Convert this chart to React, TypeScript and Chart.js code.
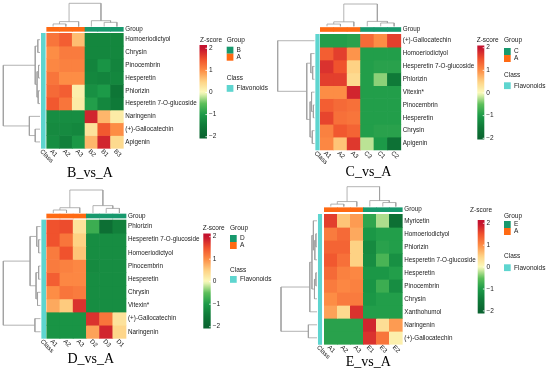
import React, { useEffect, useRef } from 'react';
import { Chart, registerables } from 'chart.js';
Chart.register(...registerables);

type Tree = number | [number, Tree, Tree];

// ---------------- DATA ----------------
// Panel 1: B_vs_A
const p1Title = 'B_vs_A';
const p1Cols = ['A1', 'A2', 'A3', 'B2', 'B1', 'B3'];
const p1Groups = ['A', 'A', 'A', 'B', 'B', 'B'];
const p1LegendGroups = ['B', 'A'];
const p1Rows = ['Homoeriodictyol', 'Chrysin', 'Pinocembrin', 'Hesperetin', 'Phlorizin', 'Hesperetin 7-O-glucoside', 'Naringenin', '(+)-Gallocatechin', 'Apigenin'];
const p1Values = [
  [1.2, 1.4, 0.65, -1.3, -1.3, -1.3],
  [1.0, 1.15, 1.15, -1.3, -1.3, -1.3],
  [1.05, 1.1, 1.1, -1.35, -1.1, -1.35],
  [1.2, 1.0, 1.0, -1.3, -1.35, -1.3],
  [1.3, 1.4, 0.15, -1.15, -1.0, -1.6],
  [1.45, 1.2, 0.2, -0.95, -1.3, -1.5],
  [-1.2, -1.2, -1.2, 1.85, 0.7, 0.2],
  [-1.25, -1.25, -1.3, 0.3, 1.45, 1.0],
  [-1.2, -1.4, -1.05, 0.7, 1.85, 0.4],
];
const p1ColTree: Tree = [1, [0.21, [0.11, 0, 1], 2], [0.25, 3, [0.18, 4, 5]]];
const p1RowTree: Tree = [1, [0.13, [0.06, 0, 1], [0.08, [0.04, 2, 3], [0.05, 4, 5]]], [0.29, 6, [0.13, 7, 8]]];

// Panel 2: C_vs_A
const p2Title = 'C_vs_A';
const p2Cols = ['A1', 'A2', 'A3', 'C3', 'C1', 'C2'];
const p2Groups = ['A', 'A', 'A', 'C', 'C', 'C'];
const p2LegendGroups = ['C', 'A'];
const p2Rows = ['(+)-Gallocatechin', 'Homoeriodictyol', 'Hesperetin 7-O-glucoside', 'Phlorizin', 'Vitexin*', 'Pinocembrin', 'Hesperetin', 'Chrysin', 'Apigenin'];
const p2Values = [
  [-0.95, -0.95, -0.9, 1.3, 1.0, 1.65],
  [1.4, 1.65, 0.95, -0.95, -0.95, -0.95],
  [1.75, 1.5, 0.5, -0.95, -0.9, -0.9],
  [1.65, 1.65, 0.4, -0.95, -0.35, -1.5],
  [1.0, 1.0, 1.85, -0.95, -0.95, -0.95],
  [1.4, 1.3, 1.25, -0.95, -0.95, -0.95],
  [1.6, 1.25, 1.2, -0.95, -0.95, -0.95],
  [1.1, 1.45, 1.35, -0.95, -0.9, -0.9],
  [1.05, 0.6, 1.7, -0.2, -1.0, -1.7],
];
const p2ColTree: Tree = [1, [0.2, [0.1, 0, 1], 2], [0.22, 3, [0.15, 4, 5]]];
const p2RowTree: Tree = [1, 0, [0.21, [0.1, 1, [0.05, 2, 3]], [0.12, [0.08, 4, [0.03, 5, 6]], [0.06, 7, 8]]]];

// Panel 3: D_vs_A
const p3Title = 'D_vs_A';
const p3Cols = ['A1', 'A2', 'A3', 'D2', 'D3', 'D1'];
const p3Groups = ['A', 'A', 'A', 'D', 'D', 'D'];
const p3LegendGroups = ['D', 'A'];
const p3Rows = ['Phlorizin', 'Hesperetin 7-O-glucoside', 'Homoeriodictyol', 'Pinocembrin', 'Hesperetin', 'Chrysin', 'Vitexin*', '(+)-Gallocatechin', 'Naringenin'];
const p3Values = [
  [1.5, 1.55, 0.3, -0.75, -1.75, -1.4],
  [1.5, 1.2, 0.5, -1.2, -1.2, -1.2],
  [1.15, 1.5, 0.6, -1.2, -1.2, -1.2],
  [1.15, 1.1, 1.05, -1.25, -1.2, -1.2],
  [1.4, 1.05, 1.05, -1.2, -1.2, -1.2],
  [1.0, 1.2, 1.15, -1.2, -1.2, -1.2],
  [0.8, 0.55, 1.75, -1.2, -1.2, -1.2],
  [-1.1, -1.1, -1.1, 1.75, 1.2, 0.3],
  [-1.1, -1.1, -1.1, 0.85, 1.85, 0.45],
];
const p3ColTree: Tree = [1, [0.23, [0.13, 0, 1], 2], [0.32, 3, [0.2, 4, 5]]];
const p3RowTree: Tree = [1, [0.28, [0.1, 0, [0.05, 1, 2]], [0.12, [0.05, 3, 4], [0.08, 5, 6]]], [0.15, 7, 8]];

// Panel 4: E_vs_A
const p4Title = 'E_vs_A';
const p4Cols = ['A1', 'A2', 'A3', 'E1', 'E3', 'E2'];
const p4Groups = ['A', 'A', 'A', 'E', 'E', 'E'];
const p4LegendGroups = ['E', 'A'];
const p4Rows = ['Myricetin', 'Homoeriodictyol', 'Phlorizin', 'Hesperetin 7-O-glucoside', 'Hesperetin', 'Pinocembrin', 'Chrysin', 'Xanthohumol', 'Naringenin', '(+)-Gallocatechin'];
const p4Values = [
  [1.65, 0.6, 0.9, -0.85, -0.25, -1.75],
  [1.15, 1.3, 0.8, -1.05, -0.95, -0.95],
  [1.35, 1.35, 0.5, -1.25, -0.9, -0.95],
  [1.45, 1.25, 0.5, -1.2, -0.65, -1.15],
  [1.3, 1.1, 1.05, -1.05, -1.05, -0.95],
  [1.15, 1.05, 1.1, -1.1, -0.75, -1.2],
  [1.0, 1.15, 1.15, -1.05, -0.95, -0.95],
  [0.85, 0.4, 1.75, -0.95, -0.95, -0.95],
  [-0.9, -0.9, -0.9, 1.85, 0.35, 0.9],
  [-0.9, -0.9, -0.9, 1.75, 1.2, 0.15],
];
const p4ColTree: Tree = [1, [0.25, [0.12, 0, 1], 2], [0.3, 3, [0.2, 4, 5]]];
const p4RowTree: Tree = [1, [0.2, [0.14, [0.1, 0, [0.06, [0.03, 1, 2], 3]], [0.07, [0.03, 4, 5], 6]], 7], [0.24, 8, 9]];

const TICK_VALUES = [2, 1, 0, -1, -2];
const TICK_LABELS = ['2', '1', '0', '\u22121', '\u22122'];
const CLASS_NAME = 'Flavonoids';

// ---------------- STYLE ----------------
const COLOR_STOPS: [number, string][] = [
  [-2, '#0a6430'],
  [-1.5, '#0f7a38'],
  [-1, '#1c9a48'],
  [-0.5, '#5cbf5a'],
  [0, '#fbfbbd'],
  [0.5, '#fed284'],
  [1, '#fd8d45'],
  [1.5, '#f0522d'],
  [2, '#c4122e'],
];
const GROUP_A = '#ff6a13';
const GROUP_OTHER = '#17996d';
const CLASS_COLOR = '#5ed5cf';
const DENDRO_COLOR = '#a0a0a0';
const SANS = '"Liberation Sans", Arial, sans-serif';
const SERIF = '"Liberation Serif", "Times New Roman", serif';

function hexRgb(h: string): number[] {
  return [1, 3, 5].map((i) => parseInt(h.slice(i, i + 2), 16));
}
function colorFor(v: number): string {
  const s = COLOR_STOPS;
  if (v <= s[0][0]) return s[0][1];
  if (v >= s[s.length - 1][0]) return s[s.length - 1][1];
  for (let i = 0; i < s.length - 1; i++) {
    const [a, ca] = s[i];
    const [b, cb] = s[i + 1];
    if (v >= a && v <= b) {
      const t = (v - a) / (b - a);
      const A = hexRgb(ca), B = hexRgb(cb);
      const c = A.map((x, k) => Math.round(x + (B[k] - x) * t));
      return `rgb(${c[0]},${c[1]},${c[2]})`;
    }
  }
  return s[0][1];
}

interface Geo {
  left: number; top: number; w: number; h: number;
  cellLeft: number; cellTop: number; cellW: number; cellH: number;
  gbTop: number; gbBot: number; cbLeft: number; cbRight: number;
  colLeaf: number; colRoot: number; rowLeaf: number; rowRoot: number;
  titleX: number; titleY: number;
  zX: number; zY: number; barX: number; barW: number; barTop: number; barBot: number;
  tick2: number; tickStep: number;
  grpX: number; grpY: number; box1Top: number; clsY: number; clsBoxTop: number; boxLabelX: number;
}

interface Spec {
  title: string; cols: string[]; groups: string[]; legendGroups: string[]; rows: string[];
  values: number[][]; colTree: Tree; rowTree: Tree; geo: Geo;
}

const PANELS: Spec[] = [
  {
    title: p1Title, cols: p1Cols, groups: p1Groups, legendGroups: p1LegendGroups, rows: p1Rows, values: p1Values,
    colTree: p1ColTree, rowTree: p1RowTree,
    geo: { left: 0, top: 0, w: 275, h: 185, cellLeft: 46.7, cellTop: 33.3, cellW: 12.77, cellH: 12.78,
      gbTop: 27.3, gbBot: 31.3, cbLeft: 41.3, cbRight: 45.3, colLeaf: 26.5, colRoot: 3.3, rowLeaf: 40, rowRoot: 3.3,
      titleX: 90, titleY: 176.5, zX: 200, zY: 40, barX: 199.5, barW: 7.5, barTop: 45, barBot: 138.5, tick2: 48.3, tickStep: 22.1,
      grpX: 226.7, grpY: 40, box1Top: 46.7, clsY: 78.5, clsBoxTop: 85, boxLabelX: 236.5 },
  },
  {
    title: p2Title, cols: p2Cols, groups: p2Groups, legendGroups: p2LegendGroups, rows: p2Rows, values: p2Values,
    colTree: p2ColTree, rowTree: p2RowTree,
    geo: { left: 275, top: 0, w: 275, h: 185, cellLeft: 45.3, cellTop: 34.3, cellW: 13.42, cellH: 12.85,
      gbTop: 27.5, gbBot: 31.5, cbLeft: 40.7, cbRight: 44.3, colLeaf: 26.3, colRoot: 4, rowLeaf: 39.5, rowRoot: 2.7,
      titleX: 93.5, titleY: 175.7, zX: 201.7, zY: 40, barX: 202.3, barW: 7, barTop: 45.5, barBot: 139.5, tick2: 47.7, tickStep: 22.65,
      grpX: 229, grpY: 40, box1Top: 48, clsY: 75.7, clsBoxTop: 82.3, boxLabelX: 239 },
  },
  {
    title: p3Title, cols: p3Cols, groups: p3Groups, legendGroups: p3LegendGroups, rows: p3Rows, values: p3Values,
    colTree: p3ColTree, rowTree: p3RowTree,
    geo: { left: 0, top: 185, w: 275, h: 186, cellLeft: 46.7, cellTop: 35, cellW: 13.22, cellH: 13.15,
      gbTop: 29, gbBot: 33, cbLeft: 41.7, cbRight: 45.7, colLeaf: 28, colRoot: 5, rowLeaf: 40.5, rowRoot: 3.3,
      titleX: 90.8, titleY: 178.3, zX: 202.7, zY: 43.3, barX: 203.3, barW: 7.4, barTop: 48.5, barBot: 143.5, tick2: 51.7, tickStep: 22.5,
      grpX: 230, grpY: 43.3, box1Top: 50, clsY: 85, clsBoxTop: 91, boxLabelX: 240 },
  },
  {
    title: p4Title, cols: p4Cols, groups: p4Groups, legendGroups: p4LegendGroups, rows: p4Rows, values: p4Values,
    colTree: p4ColTree, rowTree: p4RowTree,
    geo: { left: 275, top: 185, w: 275, h: 186, cellLeft: 49.3, cellTop: 29.3, cellW: 13.0, cellH: 13.0,
      gbTop: 22.7, gbBot: 26.7, cbLeft: 43.3, cbRight: 46.7, colLeaf: 21.5, colRoot: 1.7, rowLeaf: 42, rowRoot: 6,
      titleX: 93.3, titleY: 181, zX: 195, zY: 25.7, barX: 202.7, barW: 6.8, barTop: 35, barBot: 128.5, tick2: 38.3, tickStep: 21.9,
      grpX: 229, grpY: 31.7, box1Top: 36, clsY: 71.7, clsBoxTop: 79.3, boxLabelX: 239 },
  },
];

function layoutTree(t: Tree, segs: [number, number][][]): [number, number] {
  if (typeof t === 'number') return [t + 0.5, 0];
  const [h, l, r] = t;
  const [pl, hl] = layoutTree(l, segs);
  const [pr, hr] = layoutTree(r, segs);
  segs.push([[pl, hl], [pl, h], [pr, h], [pr, hr]]);
  return [(pl + pr) / 2, h];
}

function Panel({ spec }: { spec: Spec }) {
  const ref = useRef<HTMLCanvasElement>(null);
  useEffect(() => {
    const g = spec.geo;
    const nC = spec.cols.length;
    const nR = spec.rows.length;
    const toYu = (px: number) => (px - g.cellTop) / g.cellH;
    const toXu = (px: number) => (px - g.cellLeft) / g.cellW;
    const datasets: any[] = [];
    const barCommon = { type: 'bar', grouped: false, barPercentage: 1, categoryPercentage: 1, borderWidth: 0, clip: false };

    spec.values.forEach((row, i) => {
      datasets.push({
        ...barCommon, xAxisID: 'x', yAxisID: 'y',
        data: row.map((_, j) => ({ x: j + 0.5, y: [i, i + 1] })),
        backgroundColor: row.map(colorFor),
      });
    });
    // group annotation bar
    datasets.push({
      ...barCommon, xAxisID: 'x', yAxisID: 'y',
      data: spec.groups.map((_, j) => ({ x: j + 0.5, y: [toYu(g.gbTop), toYu(g.gbBot)] })),
      backgroundColor: spec.groups.map((gr) => (gr === 'A' ? GROUP_A : GROUP_OTHER)),
    });
    // class annotation bar
    datasets.push({
      ...barCommon, xAxisID: 'x2', yAxisID: 'y', maxBarThickness: g.cbRight - g.cbLeft,
      data: [{ x: toXu((g.cbLeft + g.cbRight) / 2), y: [0, nR] }],
      backgroundColor: CLASS_COLOR,
    });
    // dendrograms
    const lineCommon = { type: 'line', borderColor: DENDRO_COLOR, borderWidth: 0.8, pointRadius: 0, fill: false, tension: 0, clip: false };
    const colSegs: [number, number][][] = [];
    layoutTree(spec.colTree, colSegs);
    colSegs.forEach((s) => {
      datasets.push({
        ...lineCommon, xAxisID: 'x', yAxisID: 'y', indexAxis: 'x',
        data: s.map(([pos, h]) => ({ x: pos, y: toYu(g.colLeaf - h * (g.colLeaf - g.colRoot)) })),
      });
    });
    const rowSegs: [number, number][][] = [];
    layoutTree(spec.rowTree, rowSegs);
    rowSegs.forEach((s) => {
      datasets.push({
        ...lineCommon, xAxisID: 'x', yAxisID: 'y', indexAxis: 'y',
        data: s.map(([pos, h]) => ({ x: toXu(g.rowLeaf - h * (g.rowLeaf - g.rowRoot)), y: pos })),
      });
    });

    const overlay = {
      id: 'overlay',
      afterDraw(chart: any) {
        const ctx: CanvasRenderingContext2D = chart.ctx;
        const xs = chart.scales.x;
        const ys = chart.scales.y;
        ctx.save();
        ctx.fillStyle = '#1a1a1a';
        ctx.font = `6.3px ${SANS}`;
        ctx.textAlign = 'left';
        ctx.textBaseline = 'middle';
        const labX = xs.getPixelForValue(nC) + 2;
        spec.rows.forEach((r, i) => ctx.fillText(r, labX, ys.getPixelForValue(i + 0.5)));
        ctx.fillText('Group', labX, ys.getPixelForValue(toYu((g.gbTop + g.gbBot) / 2)));
        const bottom = ys.getPixelForValue(nR);
        const colLab = (text: string, cx: number) => {
          ctx.save();
          ctx.translate(cx - 2.2, bottom + 2.2);
          ctx.rotate(Math.PI / 4);
          ctx.fillText(text, 0, 0);
          ctx.restore();
        };
        spec.cols.forEach((c, j) => colLab(c, xs.getPixelForValue(j + 0.5)));
        colLab('Class', chart.scales.x2.getPixelForValue(toXu((g.cbLeft + g.cbRight) / 2)));

        // title
        ctx.fillStyle = '#000';
        ctx.font = `14px ${SERIF}`;
        ctx.textAlign = 'center';
        ctx.textBaseline = 'alphabetic';
        ctx.fillText(spec.title, g.titleX, g.titleY);

        // colour legend
        const valAt = (py: number) => 2 - (py - g.tick2) / g.tickStep;
        const grad = ctx.createLinearGradient(0, g.barTop, 0, g.barBot);
        for (let k = 0; k <= 40; k++) {
          const t = k / 40;
          grad.addColorStop(t, colorFor(valAt(g.barTop + t * (g.barBot - g.barTop))));
        }
        ctx.fillStyle = grad;
        ctx.fillRect(g.barX, g.barTop, g.barW, g.barBot - g.barTop);
        ctx.strokeStyle = '#ffffff';
        ctx.lineWidth = 0.8;
        ctx.fillStyle = '#1a1a1a';
        ctx.font = `6.5px ${SANS}`;
        ctx.textAlign = 'left';
        ctx.textBaseline = 'middle';
        TICK_VALUES.forEach((v, k) => {
          const py = g.tick2 + (2 - v) * g.tickStep;
          ctx.beginPath();
          ctx.moveTo(g.barX + g.barW - 1.6, py);
          ctx.lineTo(g.barX + g.barW, py);
          ctx.stroke();
          ctx.fillText(TICK_LABELS[k], g.barX + g.barW + 2, py);
        });
        ctx.fillText('Z-score', g.zX, g.zY);

        // annotation legend
        ctx.fillText('Group', g.grpX, g.grpY);
        spec.legendGroups.forEach((gr, k) => {
          const y0 = g.box1Top + k * 7;
          ctx.fillStyle = gr === 'A' ? GROUP_A : GROUP_OTHER;
          ctx.fillRect(g.grpX, y0, 6.7, 7);
          ctx.fillStyle = '#1a1a1a';
          ctx.fillText(gr, g.boxLabelX, y0 + 3.7);
        });
        ctx.fillText('Class', g.grpX, g.clsY);
        ctx.fillStyle = CLASS_COLOR;
        ctx.fillRect(g.grpX, g.clsBoxTop, 6.7, 6.8);
        ctx.fillStyle = '#1a1a1a';
        ctx.fillText(CLASS_NAME, g.boxLabelX, g.clsBoxTop + 3.5);
        ctx.restore();
      },
    };

    const chart = new Chart(ref.current as HTMLCanvasElement, {
      type: 'bar',
      data: { datasets },
      options: {
        animation: false,
        responsive: false,
        events: [],
        layout: {
          padding: {
            left: g.cellLeft,
            top: g.cellTop,
            right: g.w - g.cellLeft - nC * g.cellW,
            bottom: g.h - g.cellTop - nR * g.cellH,
          },
        },
        plugins: { legend: { display: false }, tooltip: { enabled: false }, title: { display: false } },
        scales: {
          x: { type: 'linear', min: 0, max: nC, display: false, offset: false, ticks: { stepSize: 1 }, grid: { display: false } },
          x2: { type: 'linear', axis: 'x', min: 0, max: nC, display: false, offset: false, ticks: { stepSize: 1 }, grid: { display: false } },
          y: { type: 'linear', min: 0, max: nR, reverse: true, display: false, ticks: { stepSize: 1 }, grid: { display: false } },
        },
      } as any,
      plugins: [overlay],
    } as any);
    return () => chart.destroy();
  }, [spec]);
  const g = spec.geo;
  return (
    <canvas
      ref={ref}
      width={g.w}
      height={g.h}
      style={{ position: 'absolute', left: g.left, top: g.top, width: g.w, height: g.h }}
    />
  );
}

export default function App() {
  return (
    <div style={{ position: 'fixed', left: 0, top: 0, width: 550, height: 371, background: '#ffffff', overflow: 'hidden' }}>
      {PANELS.map((p, i) => (
        <Panel key={i} spec={p} />
      ))}
    </div>
  );
}
